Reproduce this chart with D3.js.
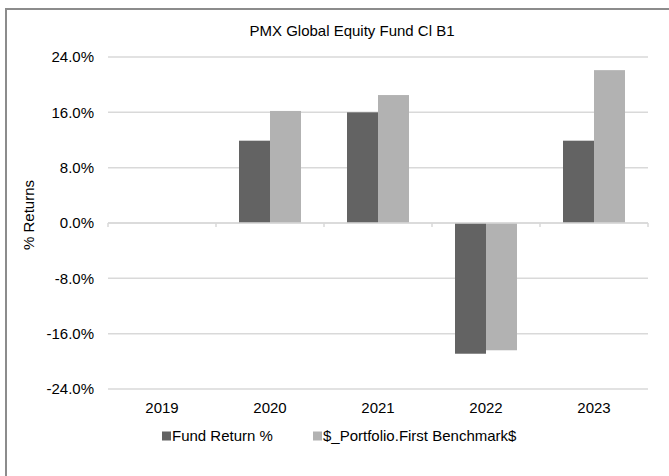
<!DOCTYPE html>
<html>
<head>
<meta charset="utf-8">
<script src="https://cdn.jsdelivr.net/npm/d3@7"></script>
<style>
  body { margin: 0; background: #fff; }
  svg text { font-family: "Liberation Sans", Arial, sans-serif; fill: #000; }
</style>
</head>
<body>
<div id="chart"></div>
<script>
// chart data
const years = ["2019", "2020", "2021", "2022", "2023"];
const seriesNames = ["Fund Return %", "$_Portfolio.First Benchmark$"];
const fundReturns = [null, 11.9, 16.0, -18.9, 11.9];
const benchmarkReturns = [null, 16.2, 18.5, -18.4, 22.1];
const yTicks = [-24, -16, -8, 0, 8, 16, 24];
const colors = ["#636363", "#b2b2b2"];

const width = 669, height = 476;
const plot = { left: 108, right: 648, top: 57, bottom: 389 };

const svg = d3.select("#chart").append("svg")
    .attr("width", width)
    .attr("height", height);

// outer frame (only top and left show in the picture)
svg.append("path")
    .attr("d", `M6,${height} L6,9 L${width},9`)
    .attr("fill", "none")
    .attr("stroke", "#8c8c8c")
    .attr("stroke-width", 2);

svg.append("text")
    .attr("x", 352)
    .attr("y", 36)
    .attr("text-anchor", "middle")
    .style("font-size", "15px")
    .text("PMX Global Equity Fund Cl B1");

const y = d3.scaleLinear()
    .domain([-24, 24])
    .range([plot.bottom, plot.top]);

const x0 = d3.scaleBand()
    .domain(years)
    .range([plot.left, plot.right])
    .paddingInner(0.426)
    .paddingOuter(0.213);

const x1 = d3.scaleBand()
    .domain(seriesNames)
    .range([0, x0.bandwidth()]);

// gridlines
svg.append("g").selectAll("line")
    .data(yTicks)
    .join("line")
    .attr("x1", plot.left)
    .attr("x2", plot.right)
    .attr("y1", d => y(d))
    .attr("y2", d => y(d))
    .attr("stroke", "#d9d9d9")
    .attr("stroke-width", 1.5);

// y tick labels
svg.append("g").selectAll("text")
    .data(yTicks)
    .join("text")
    .attr("x", 94)
    .attr("y", d => y(d))
    .attr("dy", "0.36em")
    .attr("text-anchor", "end")
    .style("font-size", "15px")
    .text(d => d.toFixed(1) + "%");

svg.append("text")
    .attr("transform", "translate(34,215) rotate(-90)")
    .attr("text-anchor", "middle")
    .style("font-size", "15px")
    .text("% Returns");

// bars
const rows = years.map((yr, i) => ({
    year: yr,
    values: [fundReturns[i], benchmarkReturns[i]]
}));

const groups = svg.append("g").selectAll("g")
    .data(rows)
    .join("g")
    .attr("transform", d => `translate(${x0(d.year)},0)`);

groups.selectAll("rect")
    .data(d => d.values.map((v, k) => ({ name: seriesNames[k], value: v, k }))
        .filter(e => e.value !== null))
    .join("rect")
    .attr("x", d => x1(d.name))
    .attr("width", x1.bandwidth())
    .attr("y", d => y(Math.max(0, d.value)))
    .attr("height", d => Math.abs(y(d.value) - y(0)))
    .attr("fill", d => colors[d.k]);

// category axis line + boundary ticks
svg.append("line")
    .attr("x1", plot.left)
    .attr("x2", plot.right)
    .attr("y1", y(0))
    .attr("y2", y(0))
    .attr("stroke", "#d9d9d9")
    .attr("stroke-width", 1.5);

const boundaries = d3.range(years.length + 1).map(i => plot.left + i * x0.step());
svg.append("g").selectAll("line")
    .data(boundaries)
    .join("line")
    .attr("x1", d => d)
    .attr("x2", d => d)
    .attr("y1", y(0))
    .attr("y2", y(0) + 4)
    .attr("stroke", "#d9d9d9")
    .attr("stroke-width", 1.5);

// x labels
svg.append("g").selectAll("text")
    .data(years)
    .join("text")
    .attr("x", d => x0(d) + x0.bandwidth() / 2)
    .attr("y", 413)
    .attr("text-anchor", "middle")
    .style("font-size", "15px")
    .text(d => d);

// legend
const legendX = [162, 313];
const legend = svg.append("g").selectAll("g")
    .data(seriesNames)
    .join("g")
    .attr("transform", (d, i) => `translate(${legendX[i]},436)`);

legend.append("rect")
    .attr("x", 0)
    .attr("y", -4.5)
    .attr("width", 9)
    .attr("height", 9)
    .attr("fill", (d, i) => colors[i]);

legend.append("text")
    .attr("x", 10)
    .attr("dy", "0.36em")
    .style("font-size", "15px")
    .text(d => d);
</script>
</body>
</html>
